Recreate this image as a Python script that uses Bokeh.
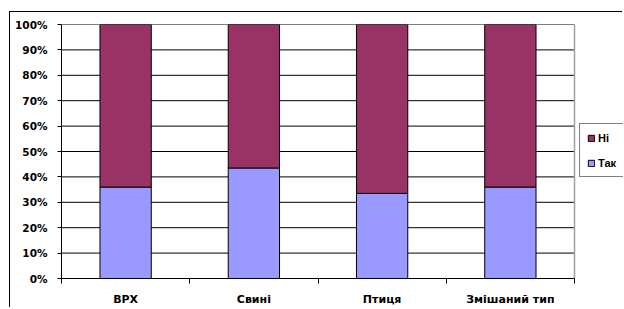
from bokeh.plotting import figure
from bokeh.models import ColumnDataSource, FixedTicker, Legend, LegendItem, Range1d, Span
from bokeh.embed import file_html
from bokeh.resources import INLINE

categories = ["ВРХ", "Свині", "Птиця", "Змішаний тип"]
tak = [0.36, 0.435, 0.335, 0.36]
ni = [0.64, 0.565, 0.665, 0.64]
series_names = ["Так", "Ні"]
y_ticks = [0.0, 0.1, 0.2, 0.3, 0.4, 0.5, 0.6, 0.7, 0.8, 0.9, 1.0]
y_labels = ["0%", "10%", "20%", "30%", "40%", "50%", "60%", "70%", "80%", "90%", "100%"]

FONT = "DejaVu Sans"
LEGEND_FONT = "Liberation Sans"

# layout (pixels)
W, H = 613, 296
LEFT, TOP, BOTTOM = 51, 12, 30
PLOT_AREA_W = 513           # width of the category area
FRAME_W = W - LEFT          # frame runs to the canvas edge (legend lives inside)

n = len(categories)
xs = [i + 0.5 for i in range(n)]
source = ColumnDataSource(dict(x=xs, tak=tak, ni=ni))
grid_src = ColumnDataSource(dict(y=y_ticks, x0=[0] * len(y_ticks), x1=[n] * len(y_ticks)))

p = figure(width=W, height=H, output_backend="svg", toolbar_location=None,
           x_range=Range1d(0, n * FRAME_W / PLOT_AREA_W), y_range=Range1d(0, 1),
           min_border_left=LEFT, min_border_right=0, min_border_top=TOP, min_border_bottom=BOTTOM,
           margin=(11, 0, 0, 9),
           styles={"border-top": "1px solid #000000", "border-left": "1px solid #000000"})
p.background_fill_color = "white"
p.border_fill_color = "white"
p.outline_line_color = None
p.grid.visible = False

# horizontal gridlines limited to the category area
p.segment(x0="x0", x1="x1", y0="y", y1="y", source=grid_src,
          line_color="#000000", line_width=1, level="underlay")
# right border of the plot area
p.add_layout(Span(location=n, dimension="height", line_color="#a0a0a0", line_width=1.5))

renderers = p.vbar_stack(["tak", "ni"], x="x", width=0.4, source=source,
                         fill_color=["#9999FF", "#993366"], line_color="black", line_width=1)

# y axis
p.yaxis.ticker = FixedTicker(ticks=y_ticks)
p.yaxis.major_label_overrides = {t: l for t, l in zip(y_ticks, y_labels)}
p.yaxis.major_tick_out = 4
p.yaxis.major_tick_in = 0
p.yaxis.minor_tick_line_color = None
p.yaxis.axis_line_color = "black"
p.yaxis.major_label_text_font = FONT
p.yaxis.major_label_text_font_style = "bold"
p.yaxis.major_label_text_font_size = "10.5px"
p.yaxis.major_label_text_color = "black"
p.yaxis.major_label_standoff = 10

# x axis: labels at centers, ticks at boundaries (minor ticks)
p.xaxis.bounds = (0, n)
p.xaxis.ticker = FixedTicker(ticks=xs, minor_ticks=list(range(n + 1)))
p.xaxis.major_label_overrides = {x: c for x, c in zip(xs, categories)}
p.xaxis.major_tick_line_color = None
p.xaxis.minor_tick_out = 5
p.xaxis.minor_tick_in = 0
p.xaxis.minor_tick_line_color = "black"
p.xaxis.axis_line_color = "black"
p.xaxis.major_label_text_font = FONT
p.xaxis.major_label_text_font_style = "bold"
p.xaxis.major_label_text_font_size = "11px"
p.xaxis.major_label_text_color = "black"
p.xaxis.major_label_standoff = 8

legend = Legend(items=[LegendItem(label=series_names[1], renderers=[renderers[1]]),
                       LegendItem(label=series_names[0], renderers=[renderers[0]])],
                location=(PLOT_AREA_W + 5, 101))
legend.glyph_width = 8
legend.glyph_height = 8
legend.label_height = 13
legend.label_standoff = 3
legend.spacing = 12
legend.padding = 7
legend.margin = 0
legend.border_line_color = "black"
legend.border_line_width = 1
legend.label_text_font = LEGEND_FONT
legend.label_text_font_style = "bold"
legend.label_text_font_size = "11px"
legend.label_text_color = "black"
legend.background_fill_color = "white"
legend.background_fill_alpha = 1
p.add_layout(legend, "center")

open("out.html", "w").write(file_html(p, INLINE))
